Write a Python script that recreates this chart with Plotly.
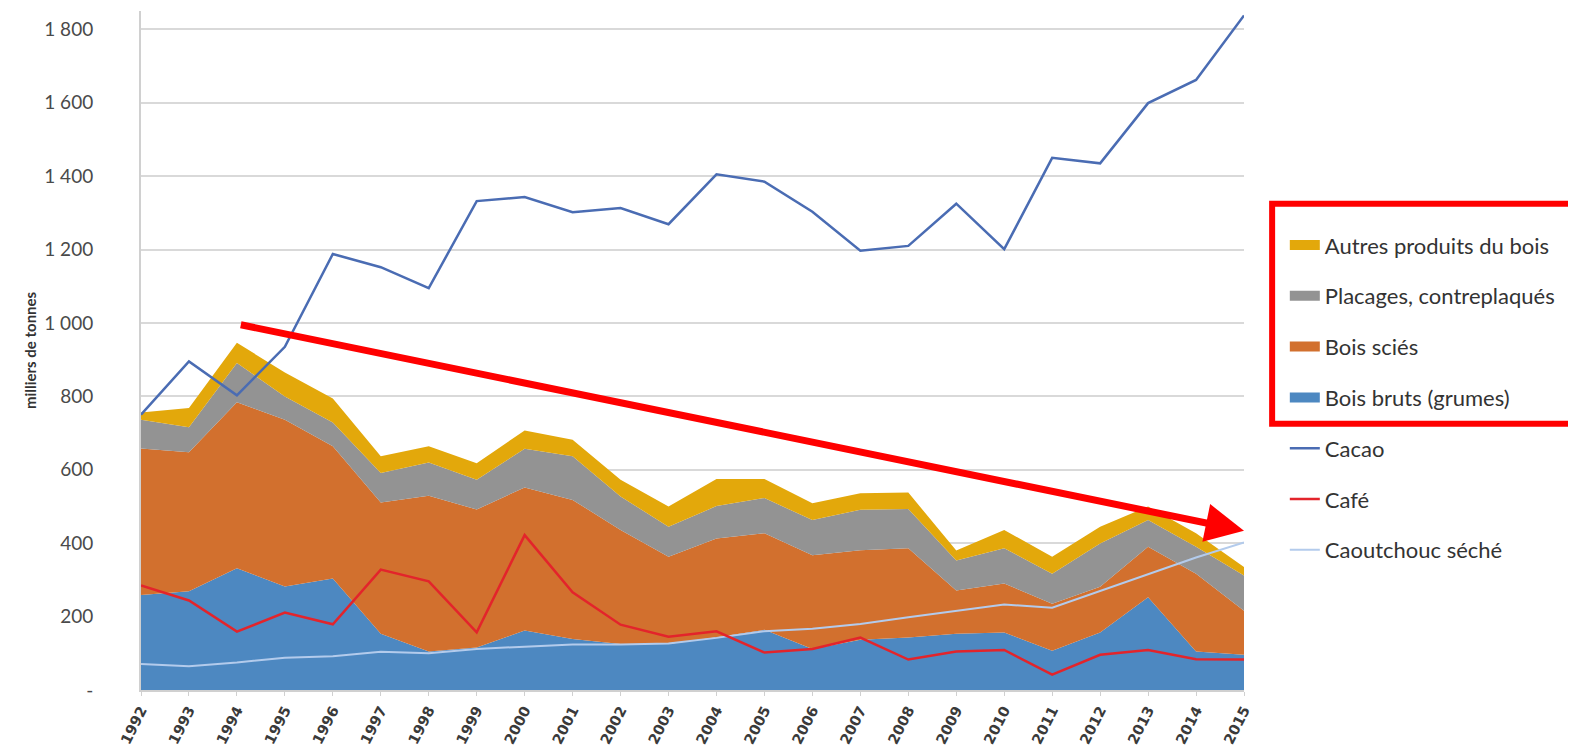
import plotly.graph_objects as go

years = list(range(1992, 2016))

bois_bruts = [259, 269, 332, 282, 304, 153, 105, 116, 162, 139, 125, 125, 144, 164, 112, 137, 143, 153, 157, 107, 157, 253, 105, 96]
bois_scies = [399, 379, 452, 454, 360, 358, 424, 376, 390, 379, 311, 238, 269, 263, 255, 244, 243, 118, 133, 128, 124, 137, 212, 120]
placages = [78, 68, 107, 64, 65, 80, 91, 81, 105, 119, 91, 82, 88, 96, 96, 110, 107, 82, 96, 82, 118, 73, 73, 96]
autres = [20, 52, 55, 65, 65, 46, 44, 45, 50, 45, 46, 55, 74, 52, 46, 45, 45, 27, 50, 46, 46, 37, 37, 23]

cacao = [750, 895, 803, 935, 1188, 1152, 1095, 1332, 1343, 1302, 1313, 1269, 1405, 1385, 1303, 1197, 1210, 1325, 1201, 1450, 1435, 1599, 1662, 1838]
cafe = [285, 244, 159, 211, 179, 328, 296, 157, 422, 266, 178, 145, 160, 102, 112, 143, 83, 105, 109, 42, 96, 109, 84, 83]
caoutchouc = [71, 65, 75, 88, 92, 104, 100, 112, 118, 124, 124, 127, 142, 160, 167, 180, 198, 215, 233, 224, 270, 316, 361, 402]

y_tickvals = [0, 200, 400, 600, 800, 1000, 1200, 1400, 1600, 1800]
y_ticktext = ["-", "200", "400", "600", "800", "1 000", "1 200", "1 400", "1 600", "1 800"]

arrow_start = (1994.05, 996)
arrow_end = (2015, 434)

FONT = "Lato"

fig = go.Figure()

areas = [
    ("Bois bruts (grumes)", bois_bruts, "#4d88c1", 4),
    ("Bois sciés", bois_scies, "#d2702e", 3),
    ("Placages, contreplaqués", placages, "#939393", 2),
    ("Autres produits du bois", autres, "#e3a80b", 1),
]
for name, vals, col, rank in areas:
    fig.add_trace(go.Scatter(
        x=years, y=vals, name=name, mode="lines", stackgroup="bois",
        line=dict(width=0, color=col), fillcolor=col,
        showlegend=False, legendgroup=name,
    ))
    # legend entry drawn as a thick swatch
    fig.add_trace(go.Scatter(
        x=[None], y=[None], name=name, mode="lines",
        line=dict(width=12, color=col),
        legendrank=rank, legendgroup=name, showlegend=True,
    ))

lines = [
    ("Caoutchouc séché", caoutchouc, "#b3cbec", 2, 7),
    ("Café", cafe, "#e3242b", 2.5, 6),
    ("Cacao", cacao, "#4a6cb3", 2.5, 5),
]
for name, vals, col, w, rank in lines:
    fig.add_trace(go.Scatter(
        x=years, y=vals, name=name, mode="lines",
        line=dict(width=w, color=col),
        legendrank=rank, legendgroup=name,
    ))

fig.add_annotation(
    x=arrow_end[0], y=arrow_end[1], ax=arrow_start[0], ay=arrow_start[1],
    xref="x", yref="y", axref="x", ayref="y", text="",
    showarrow=True, arrowhead=2, arrowsize=1.1, arrowwidth=7, arrowcolor="#ff0000",
    standoff=0,
)

fig.add_shape(
    type="rect", xref="paper", yref="paper",
    x0=1.0255, x1=1.32, y0=0.392, y1=0.716,
    line=dict(color="#ff0000", width=6), fillcolor="rgba(0,0,0,0)",
)

fig.add_annotation(
    xref="paper", yref="paper", x=-0.101, y=0.5, xanchor="center", yanchor="middle",
    text="<b>milliers de tonnes</b>", textangle=-90, showarrow=False,
    font=dict(size=15, color="#333333", family=FONT),
)

# page body has an 8px margin: the figure is sized to fit the 1576x749 window
fig.update_layout(
    width=1568, height=741,
    margin=dict(l=133, r=332, t=3, b=59, autoexpand=False),
    paper_bgcolor="white", plot_bgcolor="white",
    font=dict(family=FONT, color="#404040"),
    showlegend=True,
    legend=dict(
        x=1.037, xanchor="left", y=0.686, yanchor="top",
        font=dict(size=22, color="#333333", family=FONT),
        tracegroupgap=19.2, itemwidth=30, bgcolor="rgba(0,0,0,0)",
    ),
    xaxis=dict(
        range=[1992, 2015], tickmode="array", tickvals=years,
        ticktext=["<b>%d</b>" % y for y in years], tickangle=-63,
        tickfont=dict(size=14.5, color="#3a3a3a", family="DejaVu Sans"),
        showgrid=False, zeroline=False, showline=True, automargin=False,
        linecolor="#d0d0d0", linewidth=2, ticks="outside", ticklen=4,
        tickcolor="#d0d0d0",
    ),
    yaxis=dict(
        range=[0, 1850], tickmode="array", tickvals=y_tickvals, ticktext=y_ticktext,
        tickfont=dict(size=19, color="#4a4a4a", family=FONT),
        showgrid=True, gridcolor="#d9d9d9", gridwidth=2, automargin=False,
        zeroline=False, showline=True, linecolor="#d0d0d0", linewidth=2,
        ticklabelstandoff=42,
    ),
)

fig.write_html("out.html")
